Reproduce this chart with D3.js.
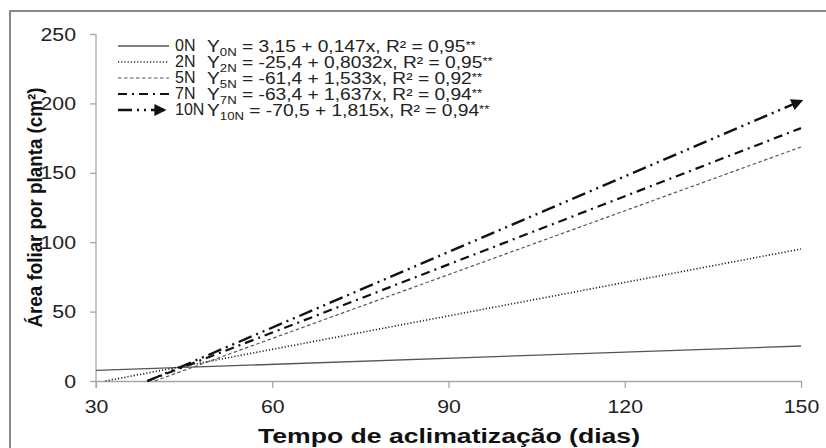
<!DOCTYPE html>
<html>
<head>
<meta charset="utf-8">
<script src="https://cdn.jsdelivr.net/npm/d3@7"></script>
<style>
  body { margin: 0; background: #fff; }
  text { font-family: "Liberation Sans", Arial, sans-serif; }
</style>
</head>
<body>
<div id="chart"></div>
<script>
// Series: each fitted line from where it starts to day 150
const series = ["0N", "2N", "5N", "7N", "10N"];
const xStart = [30, 31.6, 40.0, 38.7, 38.8];
const yStart = [7.6, 0, 0, 0, 0];
const xEnd = [150, 150, 150, 150, 150];
const yEnd = [25.2, 95.1, 168.6, 182.2, 201.8];

// Legend equation texts
const eqSub = ["0N", "2N", "5N", "7N", "10N"];
const eqBody = [
  " = 3,15 + 0,147x,  R² = 0,95",
  " = -25,4 + 0,8032x, R² = 0,95",
  " = -61,4 + 1,533x, R² = 0,92",
  " = -63,4 + 1,637x, R² = 0,94",
  " = -70,5 + 1,815x, R² = 0,94"
];

const xTicks = [30, 60, 90, 120, 150];
const yTicks = [0, 50, 100, 150, 200, 250];

const W = 826, H = 448;
const margin = { left: 96, right: 25, top: 34, bottom: 67 };
const stretch = 1.12; // the original text is a bit wider than Arial

const styles = [
  { stroke: "#555", width: 1.3, dash: null },
  { stroke: "#222", width: 1.6, dash: "1.2,2" },
  { stroke: "#555", width: 1.2, dash: "3.5,2.5" },
  { stroke: "#111", width: 2.2, dash: "9,5,2,5" },
  { stroke: "#111", width: 2.4, dash: "14,5,2,5,2,5" }
];

const svg = d3.select("#chart").append("svg")
  .attr("width", W).attr("height", H);

// outer frame (cut at right and bottom)
svg.append("rect")
  .attr("x", 10).attr("y", 11)
  .attr("width", 830).attr("height", 460)
  .attr("fill", "none")
  .attr("stroke", "#888")
  .attr("stroke-width", 2);

const x = d3.scaleLinear().domain([30, 150]).range([margin.left, W - margin.right]);
const y = d3.scaleLinear().domain([0, 250]).range([H - margin.bottom, margin.top]);

// arrow head for 10N
svg.append("defs").append("marker")
  .attr("id", "arrow")
  .attr("viewBox", "0 0 10 10")
  .attr("refX", 8).attr("refY", 5)
  .attr("markerWidth", 5).attr("markerHeight", 5)
  .attr("markerUnits", "strokeWidth")
  .attr("orient", "auto")
  .append("path")
  .attr("d", "M0,0 L10,5 L0,10 Z")
  .attr("fill", "#111");

// axes
const xAxis = svg.append("g")
  .attr("transform", `translate(0,${y(0)})`)
  .call(d3.axisBottom(x).tickValues(xTicks).tickSize(7).tickPadding(12).tickSizeOuter(0));
const yAxis = svg.append("g")
  .attr("transform", `translate(${x(30)},0)`)
  .call(d3.axisLeft(y).tickValues(yTicks).tickSize(6).tickPadding(11).tickSizeOuter(0));

[xAxis, yAxis].forEach(g => {
  g.select(".domain").attr("stroke", "#a6a6a6").attr("stroke-width", 1.3);
  g.selectAll(".tick line").attr("stroke", "#a6a6a6").attr("stroke-width", 1.3);
  g.selectAll(".tick text")
    .attr("fill", "#222")
    .style("font-size", "19px")
    .style("font-family", "'Liberation Sans', Arial, sans-serif")
    .attr("transform", `scale(${stretch},1)`);
});
yAxis.selectAll(".tick text").attr("x", -20 / stretch);
// y axis extends slightly below the x axis
yAxis.select(".domain").attr("d", `M0,${y(250)}V${y(0) + 7}`);

// lines
const line = d3.line().x(d => x(d[0])).y(d => y(d[1]));
series.forEach((s, i) => {
  const st = styles[i];
  const p = svg.append("path")
    .datum([[xStart[i], yStart[i]], [xEnd[i], yEnd[i]]])
    .attr("d", line)
    .attr("fill", "none")
    .attr("stroke", st.stroke)
    .attr("stroke-width", st.width);
  if (st.dash) p.attr("stroke-dasharray", st.dash);
  if (s === "10N") p.attr("marker-end", "url(#arrow)");
});

// legend
const leg = svg.append("g");
series.forEach((s, i) => {
  const st = styles[i];
  const ry = 46 + i * 16;
  const l = leg.append("line")
    .attr("x1", 118).attr("x2", s === "10N" ? 164 : 169)
    .attr("y1", ry).attr("y2", ry)
    .attr("stroke", st.stroke)
    .attr("stroke-width", st.width);
  if (st.dash) l.attr("stroke-dasharray", st.dash);
  if (s === "10N") l.attr("marker-end", "url(#arrow)");

  leg.append("text")
    .attr("x", 175).attr("y", ry + 5)
    .style("font-size", "16px").attr("fill", "#222")
    .text(s);

  const t = leg.append("text")
    .attr("transform", `translate(207,${ry + 6}) scale(1.2,1)`)
    .style("font-size", "16px").attr("fill", "#222");
  t.append("tspan").text("Y");
  t.append("tspan").attr("dy", 4).style("font-size", "11px").text(eqSub[i]);
  t.append("tspan").attr("dy", -4).text(eqBody[i]);
  t.append("tspan").attr("dy", -3).style("font-size", "11px").text("**");
});

// axis titles
svg.append("text")
  .attr("x", 258).attr("y", 443)
  .attr("textLength", 382).attr("lengthAdjust", "spacingAndGlyphs")
  .style("font-size", "20px").style("font-weight", "bold").attr("fill", "#111")
  .text("Tempo de aclimatização (dias)");

svg.append("text")
  .attr("transform", `translate(42,${(y(0) + y(250)) / 2 + 120}) rotate(-90)`)
  .attr("textLength", 240).attr("lengthAdjust", "spacingAndGlyphs")
  .style("font-size", "21px").style("font-weight", "bold").attr("fill", "#111")
  .text("Área foliar por planta (cm²)");
</script>
</body>
</html>
